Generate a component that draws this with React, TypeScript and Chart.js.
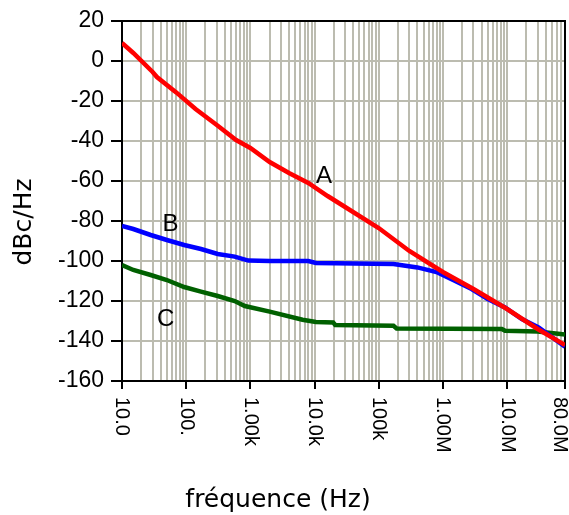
import React, { useEffect, useRef } from "react";
import { Chart, registerables } from "chart.js";

Chart.register(...registerables);

// ---- data ----
const freqA = [10, 15, 30, 35, 70, 140, 300, 600, 1000, 2000, 4000, 8000, 16000, 30000, 100000, 300000, 1e6, 3e6, 1e7, 3e7, 8e7];
const valsA = [9, 4, -5.5, -8, -15.7, -24, -32, -39.5, -43.5, -50.5, -56, -61, -67.5, -73, -83.5, -95, -105.5, -114, -124, -134, -142];

const freqB = [10, 15, 28, 50, 93, 170, 310, 570, 930, 2000, 8000, 10500, 170000, 400000, 825000, 1.5e6, 2.8e6, 5e6, 9.3e6, 1.7e7, 3.1e7, 8e7];
const valsB = [-82.5, -84, -87, -89.5, -92, -94, -96.5, -97.8, -99.8, -100, -100, -101, -101.5, -103.2, -105.7, -109.8, -114, -119, -123.2, -129, -133.2, -142.8];

const freqC = [10, 15, 28, 50, 93, 170, 310, 570, 820, 2000, 6500, 10500, 19500, 21000, 170000, 190000, 8.3e6, 9.3e6, 3e7, 8e7];
const valsC = [-102, -104.5, -107, -109.5, -113, -115.3, -117.5, -120, -122.5, -125.3, -129.4, -130.5, -130.7, -132, -132.4, -133.7, -134, -134.9, -135.2, -136.8];

const xTickValues = [10, 100, 1e3, 1e4, 1e5, 1e6, 1e7, 8e7];
const xTickLabels = ["10.0", "100.", "1.00k", "10.0k", "100k", "1.00M", "10.0M", "80.0M"];
const gridMultipliers = [1, 2, 3, 4, 5, 6, 7, 8, 9];
const gridDecades = [10, 100, 1e3, 1e4, 1e5, 1e6, 1e7];

const curveLabels = ["A", "B", "C"];
const curveLabelFreq = [14000, 57, 48];
const curveLabelVal = [-57.5, -81.5, -129];

const X_MIN = 10;
const X_MAX = 8e7;
const Y_MIN = -160;
const Y_MAX = 20;

const GRID = "rgb(188,188,176)";
const TICK_FONT = '"Liberation Sans", Arial, sans-serif';
const TITLE_FONT = '"DejaVu Sans", Verdana, sans-serif';

const isTickValue = (v: number) => xTickValues.some((t) => Math.abs(t - v) / t < 1e-6);

const toPoints = (f: number[], v: number[]) => f.map((x, i) => ({ x, y: v[i] }));

const textPlugin = {
  id: "textPlugin",
  beforeDatasetsDraw(chart: any) {
    const { ctx, chartArea } = chart;
    ctx.save();
    ctx.strokeStyle = "#000";
    ctx.lineWidth = 2;
    ctx.strokeRect(chartArea.left, chartArea.top, chartArea.right - chartArea.left, chartArea.bottom - chartArea.top);
    ctx.restore();
  },
  afterDraw(chart: any) {
    const { ctx, chartArea, width } = chart;
    const xs = chart.scales.x;
    const ys = chart.scales.y;
    ctx.save();
    ctx.fillStyle = "#000";
    // x tick labels, rotated clockwise
    ctx.font = `20px ${TICK_FONT}`;
    ctx.textAlign = "left";
    ctx.textBaseline = "middle";
    xTickValues.forEach((v, i) => {
      const x = Math.min(xs.getPixelForValue(v), width - 9);
      ctx.save();
      ctx.translate(x, chartArea.bottom + 16);
      ctx.rotate(Math.PI / 2);
      ctx.fillText(xTickLabels[i], 0, 0);
      ctx.restore();
    });
    // curve labels
    ctx.font = `24px ${TICK_FONT}`;
    ctx.textAlign = "center";
    ctx.textBaseline = "middle";
    curveLabels.forEach((t, i) => {
      ctx.fillText(t, xs.getPixelForValue(curveLabelFreq[i]), ys.getPixelForValue(curveLabelVal[i]));
    });
    // axis titles
    ctx.font = `25px ${TITLE_FONT}`;
    ctx.textAlign = "center";
    ctx.textBaseline = "alphabetic";
    ctx.fillText("fréquence (Hz)", 278, 507);
    ctx.save();
    ctx.translate(31, 222);
    ctx.rotate(-Math.PI / 2);
    ctx.fillText("dBc/Hz", 0, 0);
    ctx.restore();
    ctx.restore();
  },
};

export default function App() {
  const ref = useRef<HTMLCanvasElement | null>(null);

  useEffect(() => {
    if (!ref.current) return;
    const chart = new Chart(ref.current, {
      type: "line",
      data: {
        datasets: [
          { label: "A", data: toPoints(freqA, valsA), borderColor: "#ff0000", borderWidth: 4.5, pointRadius: 0, tension: 0 },
          { label: "B", data: toPoints(freqB, valsB), borderColor: "#0000ff", borderWidth: 4.5, pointRadius: 0, tension: 0 },
          { label: "C", data: toPoints(freqC, valsC), borderColor: "#006000", borderWidth: 4.5, pointRadius: 0, tension: 0 },
        ],
      },
      options: {
        animation: false,
        responsive: false,
        layout: { padding: { top: 21, right: 4, left: 0, bottom: 0 } },
        plugins: { legend: { display: false }, tooltip: { enabled: false }, title: { display: false } },
        scales: {
          x: {
            type: "logarithmic",
            min: X_MIN,
            max: X_MAX,
            afterBuildTicks: (scale: any) => {
              const t: any[] = [];
              gridDecades.forEach((d) => gridMultipliers.forEach((m) => {
                const v = d * m;
                if (v <= X_MAX) t.push({ value: v });
              }));
              t.push({ value: X_MAX });
              scale.ticks = t;
            },
            afterFit: (scale: any) => {
              scale.height = 134;
            },
            ticks: { display: false, autoSkip: false },
            grid: {
              color: GRID,
              lineWidth: 2,
              drawTicks: true,
              tickLength: 8,
              tickWidth: 2,
              tickColor: (c: any) => (c.tick && isTickValue(c.tick.value) ? "#000" : "rgba(0,0,0,0)"),
            },
            border: { display: true, color: "#000", width: 2 },
          },
          y: {
            type: "linear",
            min: Y_MIN,
            max: Y_MAX,
            afterFit: (scale: any) => {
              scale.width = 122;
            },
            ticks: {
              stepSize: 10,
              color: "#000",
              padding: 7,
              font: { family: TICK_FONT, size: 23 },
              callback: (v: any) => (Number(v) % 20 === 0 ? String(v) : ""),
            },
            grid: {
              color: (c: any) => (c.tick && c.tick.value % 20 === 0 ? GRID : "rgba(0,0,0,0)"),
              lineWidth: 2,
              drawTicks: true,
              tickLength: 11,
              tickWidth: 2,
              tickColor: "#000",
            },
            border: { display: true, color: "#000", width: 2 },
          },
        },
      },
      plugins: [textPlugin],
    });
    return () => chart.destroy();
  }, []);

  return (
    <div style={{ position: "absolute", left: 0, top: 0, width: 569, height: 515, background: "#fff" }}>
      <canvas ref={ref} width={569} height={515} style={{ display: "block" }} />
    </div>
  );
}
